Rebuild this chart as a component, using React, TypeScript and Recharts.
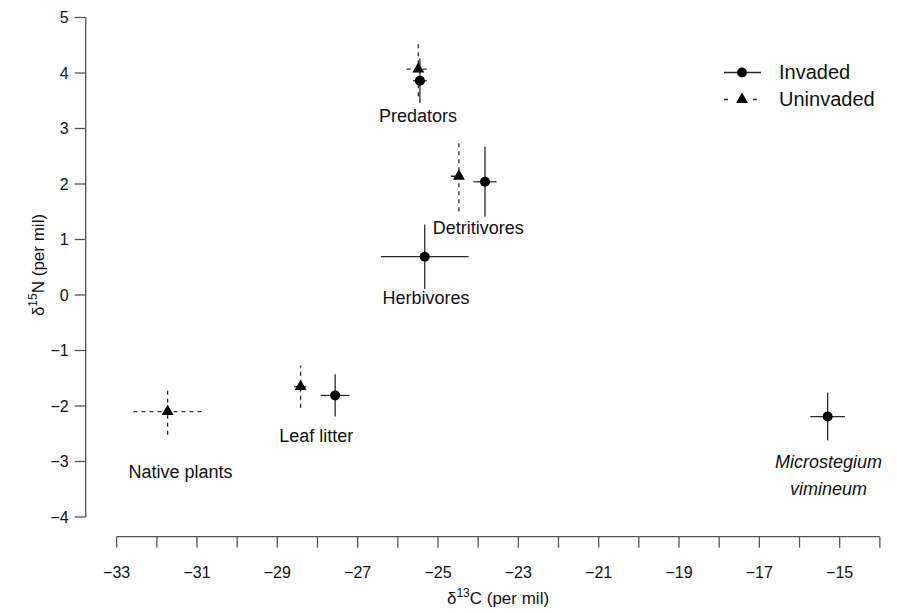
import React from 'react';
import { ScatterChart, Scatter, XAxis, YAxis, ErrorBar, ReferenceLine, Legend } from 'recharts';

const FONT = '"Liberation Sans", Arial, Helvetica, sans-serif';

// Invaded sites (solid lines, circles)
const invadedGroups = ['Predators', 'Detritivores', 'Herbivores', 'Leaf litter', 'Microstegium vimineum'];
const invadedC13 = [-25.45, -23.83, -25.33, -27.56, -15.3];
const invadedN15 = [3.86, 2.04, 0.69, -1.81, -2.19];
const invadedC13Err = [0.17, 0.29, 1.09, 0.36, 0.43];
const invadedN15Err = [0.4, 0.63, 0.58, 0.38, 0.43];

// Uninvaded sites (dashed lines, triangles)
const uninvadedGroups = ['Predators', 'Detritivores', 'Leaf litter', 'Native plants'];
const uninvadedC13 = [-25.49, -24.48, -28.42, -31.73];
const uninvadedN15 = [4.07, 2.14, -1.65, -2.1];
const uninvadedC13Err = [0.29, 0.2, 0.16, 0.85];
const uninvadedN15Err = [0.49, 0.63, 0.38, 0.42];

// Group annotations
const labelNames = ['Predators', 'Detritivores', 'Herbivores', 'Leaf litter', 'Native plants', 'Microstegium', 'vimineum'];
const labelC13 = [-25.5, -24.0, -25.3, -28.03, -31.41, -15.28, -15.28];
const labelN15 = [3.23, 1.21, -0.05, -2.54, -3.19, -3.01, -3.49];
const labelItalic = [false, false, false, false, false, true, true];

// Axes
const xTicks = [-33, -32, -31, -30, -29, -28, -27, -26, -25, -24, -23, -22, -21, -20, -19, -18, -17, -16, -15, -14];
const xLabelled = [-33, -31, -29, -27, -25, -23, -21, -19, -17, -15];
const yTicks = [-4, -3, -2, -1, 0, 1, 2, 3, 4, 5];

const invadedData = invadedGroups.map((g, i) => ({
  name: g, x: invadedC13[i], y: invadedN15[i], ex: invadedC13Err[i], ey: invadedN15Err[i],
}));
const uninvadedData = uninvadedGroups.map((g, i) => ({
  name: g, x: uninvadedC13[i], y: uninvadedN15[i], ex: uninvadedC13Err[i], ey: uninvadedN15Err[i],
}));
const labelData = labelNames.map((n, i) => ({ name: n, x: labelC13[i], y: labelN15[i], italic: labelItalic[i] }));

const fmt = (v: number) => (v < 0 ? '\u2212' + Math.abs(v) : String(v));

const LINE = '#2a2a2a';
const AXIS = '#555';

const Circle = (p: any) => <circle cx={p.cx} cy={p.cy} r={5} fill="#000" />;
const triPoints = (cx: number, cy: number, s: number) => {
  const h = (s * Math.sqrt(3)) / 2;
  return `${cx},${cy - (2 * h) / 3} ${cx - s / 2},${cy + h / 3} ${cx + s / 2},${cy + h / 3}`;
};
const Triangle = (p: any) => <polygon points={triPoints(p.cx, p.cy, 12)} fill="#000" />;
const LabelText = (p: any) => (
  <text
    x={p.cx}
    y={p.cy}
    textAnchor="middle"
    dominantBaseline="central"
    fontFamily={FONT}
    fontSize={18}
    fontStyle={p.payload.italic ? 'italic' : 'normal'}
    fill="#111"
  >
    {p.payload.name}
  </text>
);

const renderLegend = (props: any) => {
  const payload = (props.payload || []).filter((e: any) => e.value === 'Invaded' || e.value === 'Uninvaded');
  return (
    <div style={{ fontFamily: FONT }}>
      {payload.map((e: any, i: number) => (
        <div key={i} style={{ display: 'flex', alignItems: 'center', height: 27 }}>
          <svg width={57} height={27} style={{ display: 'block' }}>
            {e.value === 'Invaded' ? (
              <>
                <line x1={2} x2={39} y1={13.5} y2={13.5} stroke={LINE} strokeWidth={1.3} />
                <circle cx={20} cy={13.5} r={5} fill="#000" />
              </>
            ) : (
              <>
                <line x1={2} x2={35} y1={13.5} y2={13.5} stroke={LINE} strokeWidth={1.3} strokeDasharray="4 25" />
                <polygon points={triPoints(20, 13.5, 12)} fill="#000" />
              </>
            )}
          </svg>
          <span style={{ fontSize: 20, color: '#111' }}>{e.value}</span>
        </div>
      ))}
    </div>
  );
};

const XTitle = () => (
  <text x={498} y={604} textAnchor="middle" fontFamily={FONT} fontSize={17} fill="#111">
    <tspan>δ</tspan>
    <tspan dy={-7} fontSize={12}>13</tspan>
    <tspan dy={7}>C (per mil)</tspan>
  </text>
);
const YTitle = () => (
  <text x={44} y={265} textAnchor="middle" fontFamily={FONT} fontSize={17} fill="#111" transform="rotate(-90 44 265)">
    <tspan>δ</tspan>
    <tspan dy={-7} fontSize={12}>15</tspan>
    <tspan dy={7}>N (per mil)</tspan>
  </text>
);

export default function App() {
  return (
    <div style={{ position: 'absolute', left: 0, top: 0, background: '#fff' }}>
      <ScatterChart width={897} height={613} margin={{ top: 0.85, right: 7.9, bottom: 0, left: 5.7 }}>
        <XAxis
          type="number"
          dataKey="x"
          domain={[-33.77, -13.77]}
          allowDataOverflow
          ticks={xTicks}
          interval={0}
          tickFormatter={(v: number) => (xLabelled.includes(v) ? fmt(v) : '')}
          axisLine={false}
          tickLine={{ stroke: AXIS, strokeWidth: 1.3 }}
          tickSize={11}
          tickMargin={19}
          tick={{ fontSize: 16, fill: '#111', fontFamily: FONT }}
          height={76.3}
          label={<XTitle />}
        />
        <YAxis
          type="number"
          dataKey="y"
          domain={[-4.355, 5.3]}
          allowDataOverflow
          ticks={yTicks}
          interval={0}
          tickFormatter={fmt}
          axisLine={false}
          tickLine={{ stroke: AXIS, strokeWidth: 1.3 }}
          tickSize={11}
          tickMargin={6}
          tick={{ fontSize: 16, fill: '#111', fontFamily: FONT }}
          width={80}
          label={<YTitle />}
        />
        <ReferenceLine
          segment={[{ x: -33.77, y: -4 }, { x: -33.77, y: 5 }]}
          stroke={AXIS}
          strokeWidth={1.3}
          ifOverflow="visible"
        />
        <ReferenceLine
          segment={[{ x: -33, y: -4.355 }, { x: -14, y: -4.355 }]}
          stroke={AXIS}
          strokeWidth={1.3}
          ifOverflow="visible"
        />
        <Scatter name="Uninvaded" data={uninvadedData} shape={Triangle} isAnimationActive={false} fill="#000">
          <ErrorBar dataKey="ex" direction="x" width={0} stroke={LINE} strokeWidth={1.3} strokeDasharray="4 4" />
          <ErrorBar dataKey="ey" direction="y" width={0} stroke={LINE} strokeWidth={1.3} strokeDasharray="4 4" />
        </Scatter>
        <Scatter name="Invaded" data={invadedData} shape={Circle} isAnimationActive={false} fill="#000">
          <ErrorBar dataKey="ex" direction="x" width={0} stroke={LINE} strokeWidth={1.3} />
          <ErrorBar dataKey="ey" direction="y" width={0} stroke={LINE} strokeWidth={1.3} />
        </Scatter>
        <Scatter name="labels" data={labelData} shape={LabelText} legendType="none" isAnimationActive={false} />
        <Legend
          content={renderLegend}
          wrapperStyle={{ position: 'absolute', left: 722, top: 58.8, width: 170, height: 0, overflow: 'visible' }}
          itemSorter={(e: any) => (e.value === 'Invaded' ? 0 : 1)}
        />
      </ScatterChart>
    </div>
  );
}
